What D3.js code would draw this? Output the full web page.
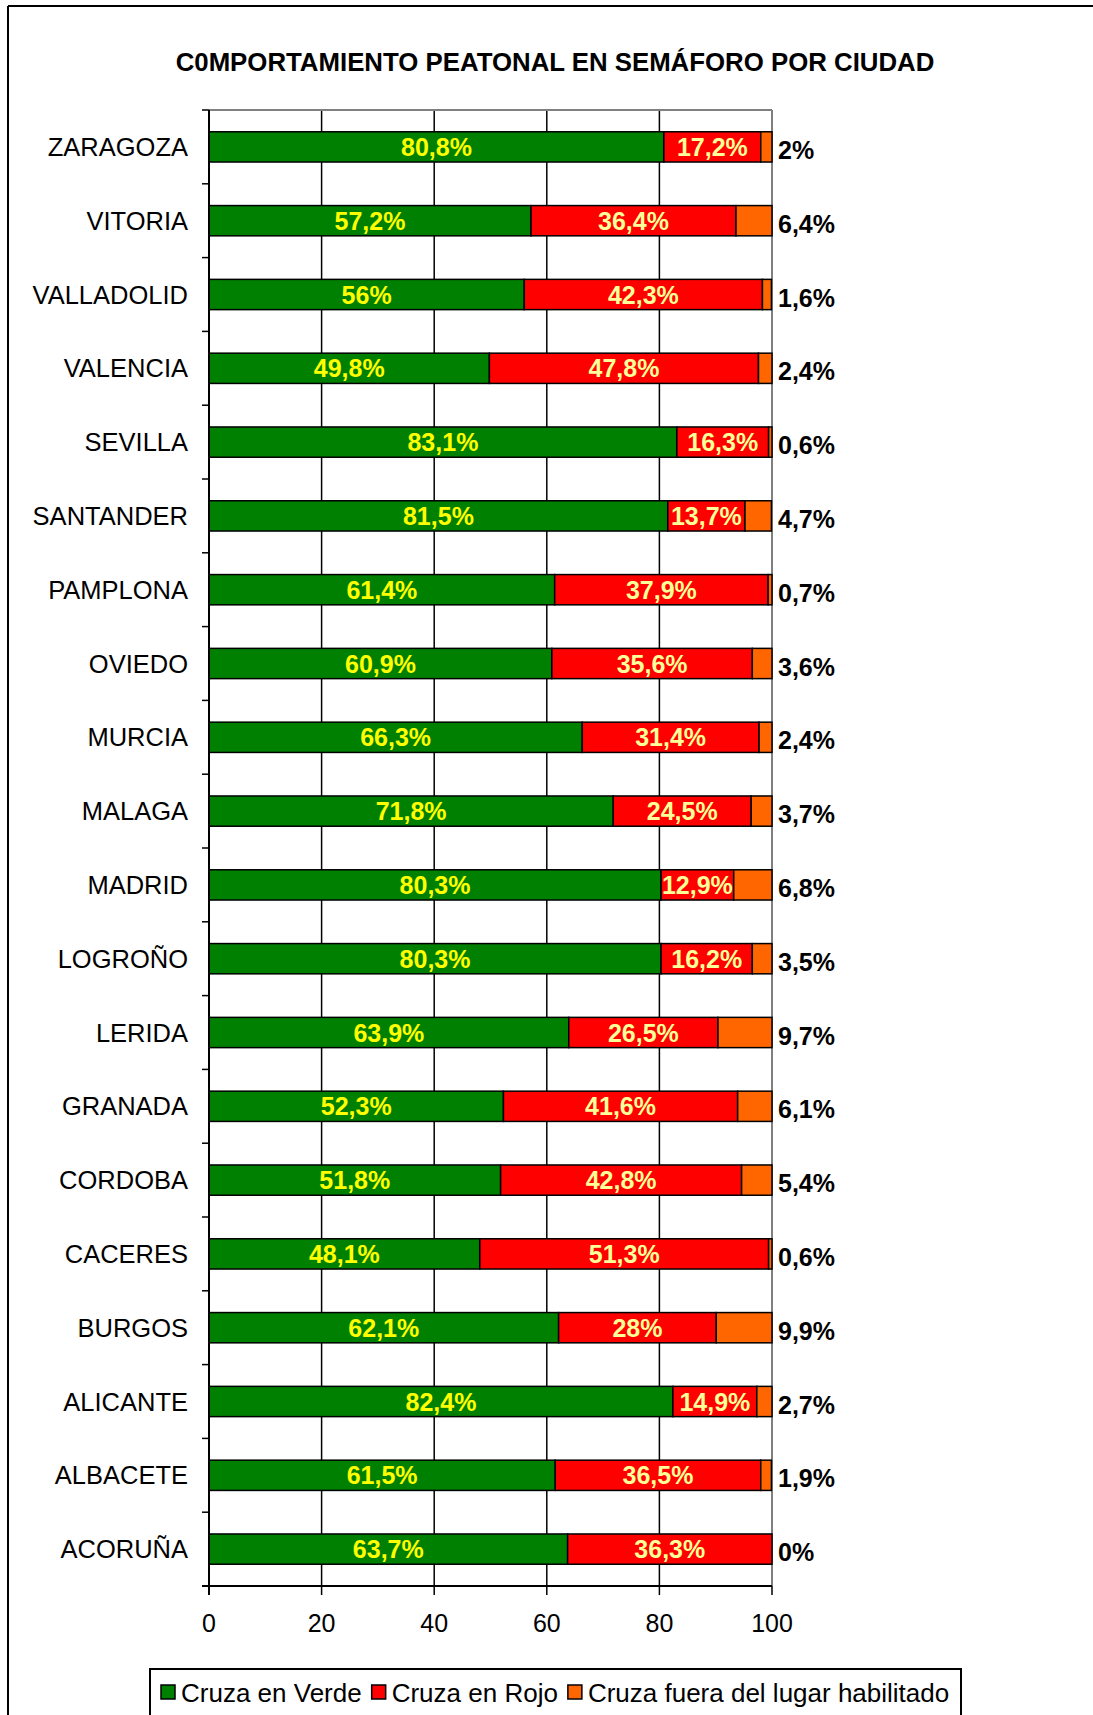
<!DOCTYPE html>
<html>
<head>
<meta charset="utf-8">
<script src="https://cdn.jsdelivr.net/npm/d3@7"></script>
<style>
  html, body { margin: 0; padding: 0; background: #fff; }
  svg { display: block; }
  text { font-family: "Liberation Sans", Arial, sans-serif; }
</style>
</head>
<body>
<svg id="chart" width="1093" height="1715"></svg>
<script>
const title = "C0MPORTAMIENTO PEATONAL EN SEMÁFORO POR CIUDAD";
const cities = ["ZARAGOZA","VITORIA","VALLADOLID","VALENCIA","SEVILLA","SANTANDER","PAMPLONA","OVIEDO","MURCIA","MALAGA","MADRID","LOGROÑO","LERIDA","GRANADA","CORDOBA","CACERES","BURGOS","ALICANTE","ALBACETE","ACORUÑA"];
const verde = [80.8,57.2,56,49.8,83.1,81.5,61.4,60.9,66.3,71.8,80.3,80.3,63.9,52.3,51.8,48.1,62.1,82.4,61.5,63.7];
const rojo  = [17.2,36.4,42.3,47.8,16.3,13.7,37.9,35.6,31.4,24.5,12.9,16.2,26.5,41.6,42.8,51.3,28,14.9,36.5,36.3];
const fuera = [2,6.4,1.6,2.4,0.6,4.7,0.7,3.6,2.4,3.7,6.8,3.5,9.7,6.1,5.4,0.6,9.9,2.7,1.9,0];
const seriesNames = ["Cruza en Verde","Cruza en Rojo","Cruza fuera del lugar habilitado"];
const seriesColors = ["#008000","#FF0000","#FF6600"];
const labelColors = ["#FFFF00","#FFFF99","#000000"];
const xTicks = [0,20,40,60,80,100];

const svg = d3.select("#chart");
const FS = 25;

// outer frame
svg.append("line").attr("x1",8).attr("x2",1093).attr("y1",6).attr("y2",6).attr("stroke","#000").attr("stroke-width",2);
svg.append("line").attr("x1",8).attr("x2",8).attr("y1",6).attr("y2",1715).attr("stroke","#000").attr("stroke-width",2);

svg.append("text").attr("x",555).attr("y",62).attr("text-anchor","middle").attr("dominant-baseline","central")
  .attr("font-weight","bold").attr("font-size",25.8).text(title);

const L = 209, R = 772, T = 110, B = 1586;
const x = d3.scaleLinear().domain([0,100]).range([L,R]);
const y = d3.scaleBand().domain(cities).range([T,B]).paddingInner(0.59).paddingOuter(0.295);
const step = y.step();

// grid
const g = svg.append("g");
g.selectAll("line.grid").data(xTicks.filter(t=>t>0 && t<100)).join("line")
  .attr("x1",d=>x(d)).attr("x2",d=>x(d)).attr("y1",T).attr("y2",B)
  .attr("stroke","#000").attr("stroke-width",1.5);
// plot border top & right (gray)
g.append("line").attr("x1",L).attr("x2",R).attr("y1",T).attr("y2",T).attr("stroke","#808080").attr("stroke-width",2);
g.append("line").attr("x1",R).attr("x2",R).attr("y1",T).attr("y2",B).attr("stroke","#808080").attr("stroke-width",2);

// stacked data
const rows = cities.map((c,i)=>({city:c, vals:[verde[i],rojo[i],fuera[i]]}));
const segs = [];
rows.forEach(r=>{
  let acc = 0;
  r.vals.forEach((v,k)=>{
    const x0 = Math.min(acc,100), x1 = Math.min(acc+v,100);
    segs.push({city:r.city, k, v, x0, x1});
    acc += v;
  });
});

g.selectAll("rect.seg").data(segs.filter(s=>s.v>0)).join("rect")
  .attr("x",d=>x(d.x0)).attr("y",d=>y(d.city)).attr("width",d=>x(d.x1)-x(d.x0)).attr("height",y.bandwidth())
  .attr("fill",d=>seriesColors[d.k]).attr("stroke","#000").attr("stroke-width",1.5);

const fmt = v => String(v).replace(".",",") + "%";

// inner labels (green & red)
g.selectAll("text.in").data(segs.filter(s=>s.k<2)).join("text")
  .attr("x",d=>(x(d.x0)+x(d.x1))/2).attr("y",d=>y(d.city)+y.bandwidth()/2)
  .attr("text-anchor","middle").attr("dominant-baseline","central")
  .attr("font-weight","bold").attr("font-size",FS).attr("fill",d=>labelColors[d.k])
  .text(d=>fmt(d.v));

// outside labels (orange series)
g.selectAll("text.out").data(segs.filter(s=>s.k===2)).join("text")
  .attr("x",R+6).attr("y",d=>y(d.city)+y.bandwidth()/2+3)
  .attr("text-anchor","start").attr("dominant-baseline","central")
  .attr("font-weight","bold").attr("font-size",FS).attr("fill",labelColors[2])
  .text(d=>fmt(d.v));

// y axis
const yAxis = svg.append("g");
yAxis.append("line").attr("x1",L).attr("x2",L).attr("y1",T).attr("y2",B+9).attr("stroke","#000").attr("stroke-width",2);
const bounds = d3.range(cities.length+1).map(i=>T+i*step);
yAxis.selectAll("line.t").data(bounds).join("line")
  .attr("x1",L-7).attr("x2",L).attr("y1",d=>d).attr("y2",d=>d).attr("stroke","#000").attr("stroke-width",1.5);
yAxis.selectAll("text").data(cities).join("text")
  .attr("x",188).attr("y",d=>y(d)+y.bandwidth()/2).attr("text-anchor","end").attr("dominant-baseline","central")
  .attr("font-size",25.5).attr("fill","#000").text(d=>d);

// x axis
const xAxis = svg.append("g");
xAxis.append("line").attr("x1",L-7).attr("x2",R).attr("y1",B).attr("y2",B).attr("stroke","#000").attr("stroke-width",2);
xAxis.selectAll("line.t").data(xTicks).join("line")
  .attr("x1",d=>x(d)).attr("x2",d=>x(d)).attr("y1",B).attr("y2",B+9).attr("stroke","#000").attr("stroke-width",1.5);
xAxis.selectAll("text").data(xTicks).join("text")
  .attr("x",d=>x(d)).attr("y",1623).attr("text-anchor","middle").attr("dominant-baseline","central")
  .attr("font-size",FS).attr("fill","#000").text(d=>d);

// legend
const lg = svg.append("g");
lg.append("rect").attr("x",150).attr("y",1669).attr("width",811).attr("height",60)
  .attr("fill","#fff").attr("stroke","#000").attr("stroke-width",2);
let lx = 161;
seriesNames.forEach((n,i)=>{
  lg.append("rect").attr("x",lx).attr("y",1685).attr("width",14).attr("height",14)
    .attr("fill",seriesColors[i]).attr("stroke","#000").attr("stroke-width",1.5);
  const t = lg.append("text").attr("x",lx+20).attr("y",1693).attr("dominant-baseline","central")
    .attr("font-size",26).attr("fill","#000").text(n);
  lx += 20 + t.node().getComputedTextLength() + 10;
});
</script>
</body>
</html>
